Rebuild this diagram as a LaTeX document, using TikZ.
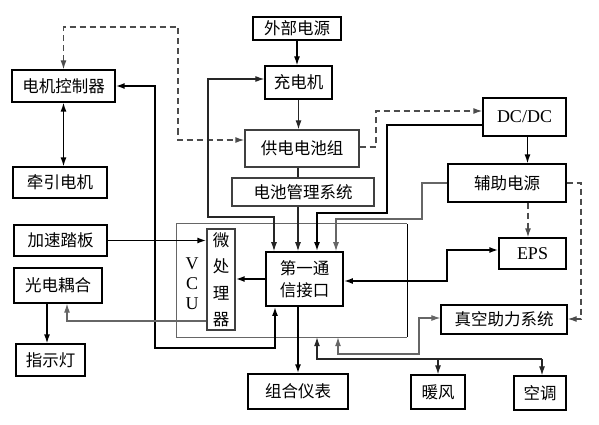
\documentclass[tikz,border=0pt]{standalone}
\usepackage{fontspec}
\setmainfont{Liberation Serif}
\newfontfamily\cjk{Noto Sans CJK SC}
\usetikzlibrary{arrows.meta,calc}
\begin{document}
\begin{tikzpicture}[x=1pt,y=-1pt,
  >={Latex[length=9pt 0 0,width=6pt 0 0]},
  box/.style={draw=black,line width=1.3pt,inner sep=0pt,fill=white,font=\cjk\fontsize{16.5}{22}\selectfont,align=center},
  thickln/.style={line width=1.7pt,black},
  midln/.style={line width=1.3pt,black},
  thinln/.style={line width=1.1pt,black!85},
  grayln/.style={line width=1.1pt,black!60},
  dashln/.style={line width=1.3pt,black!70,dash pattern=on 6pt off 4pt}
]
\useasboundingbox (0,0) rectangle (599,425);

% VCU frame
\node[minimum width=230pt,minimum height=113pt,inner sep=0pt] (vcu) at (292,280.5) {};
\draw[grayln] (vcu.south east) -- (vcu.south west) -- (vcu.north west) -- (vcu.north east);
\draw[midln] (vcu.north east) -- (vcu.south east);
\node[align=center,font=\fontsize{18}{20}\selectfont] (vcut) at (192,284) {V\\C\\U};

% boxes
\node[box,minimum width=88pt,minimum height=23pt] (wbdy) at (297,28.5) {外部电源};
\node[box,minimum width=67pt,minimum height=33pt] (cdj) at (298.5,82.5) {充电机};
\node[box,draw=black!75,minimum width=114pt,minimum height=37pt] (gdc) at (302,148.5) {供电电池组};
\node[box,draw=black!75,minimum width=142pt,minimum height=28pt] (bms) at (303,192) {电池管理系统};
\node[box,minimum width=103pt,minimum height=32pt] (djk) at (63.5,86) {电机控制器};
\node[box,minimum width=94pt,minimum height=31pt] (qydj) at (60,182.5) {牵引电机};
\node[box,font=\fontsize{18}{20}\selectfont,minimum width=83pt,minimum height=38pt] (dcdc) at (524.5,117) {DC/DC};
\node[box,minimum width=118pt,minimum height=38pt] (fzdy) at (507,183) {辅助电源};
\node[box,font=\fontsize{18}{20}\selectfont,minimum width=67pt,minimum height=31pt] (eps) at (532.5,253.5) {EPS};
\node[box,minimum width=126pt,minimum height=29pt] (zk) at (504,319.5) {真空助力系统};
\node[box,minimum width=54pt,minimum height=34pt] (nf) at (438,392) {暖风};
\node[box,minimum width=52pt,minimum height=34pt] (kt) at (540,393) {空调};
\node[box,minimum width=100pt,minimum height=35pt] (zhyb) at (298,391.5) {组合仪表};
\node[box,minimum width=93pt,minimum height=31pt] (jstb) at (60.5,240.5) {加速踏板};
\node[box,minimum width=88pt,minimum height=35pt] (gdoh) at (58,285.5) {光电耦合};
\node[box,minimum width=69pt,minimum height=32pt] (zsd) at (50.5,360) {指示灯};
\node[box,draw=black!75,font=\cjk\fontsize{16.5}{26.5}\selectfont,minimum width=28pt,minimum height=101pt] (wcl) at (221,279.5) {微\\处\\理\\器};
\node[box,line width=1.7pt,minimum width=77pt,minimum height=54pt] (com) at (304.5,279) {第一通\\信接口};

% bend points
\coordinate (d1) at (178,27);
\coordinate (c1) at (155,348);
\coordinate (c2) at (208,217);
\coordinate (c3) at (387,213);
\coordinate (c4) at (422,219);
\coordinate (c5) at (581,319);
\coordinate (c6) at (447,281);
\coordinate (c7) at (419,354);
\coordinate (c8) at (542,359);
\coordinate (c10) at (376,111);

% connectors
\draw[midln,->] (wbdy.south) -- (wbdy.south |- cdj.north);
\draw[thinln,->] (cdj.south) -- (cdj.south |- gdc.north);
\draw[dashln,<->] (djk.north) |- (d1) |- ([yshift=8.5pt]gdc.west);
\draw[midln,<->] (djk.south) -- (djk.south |- qydj.north);
\draw[thickln,<->] (djk.east) -| (c1) -| ([xshift=-29.5pt]com.south);
\draw[thinln,<->] ([xshift=-30.5pt]com.north) |- (c2) |- ([yshift=3.5pt]cdj.west);
\draw[thinln] ([xshift=-4pt]gdc.south) -- ([xshift=-4pt]gdc.south |- bms.north);
\draw[thinln,->] ([xshift=-5pt]bms.south) -- ([xshift=-5pt]bms.south |- com.north);
\draw[thickln,->] ([yshift=-8pt]dcdc.west) -| (c3) -| ([xshift=12.5pt]com.north);
\draw[grayln,->] (fzdy.west) -| (c4) -| ([xshift=31.5pt]com.north);
\draw[midln,->] ([xshift=3pt]dcdc.south) -- ([xshift=3pt]dcdc.south |- fzdy.north);
\draw[dashln,->] ([xshift=-4.5pt]eps.north |- fzdy.south) -- ([xshift=-4.5pt]eps.north);
\draw[dashln,->] (fzdy.east) -| (c5) -- (c5 -| zk.east);
\draw[dashln,->] ([yshift=1.5pt]gdc.east) -| (c10) -- (c10 -| dcdc.west);
\draw[thickln,<->] ([yshift=3.5pt]eps.west) -| (c6) -- (c6 -| com.east);
\draw[grayln,<->] ([xshift=46pt]vcu.south) |- (c7) |- ([yshift=1.5pt]zk.west);
\draw[thinln,<-] ([xshift=25pt]vcu.south) |- (c8);
\draw[thinln,->] (c8) -- (c8 |- kt.north);
\draw[thinln,->] (c8 -| nf.north) -- (nf.north);
\draw[thickln,->] (zhyb.north |- com.south) -- (zhyb.north);
\draw[thickln,->] (com.west) -- (com.west -| wcl.east);
\draw[thickln,->] (jstb.east) -- (jstb.east -| wcl.west);
\draw[grayln,->] ([yshift=-41.5pt]wcl.west) -| ([xshift=9pt]gdoh.south);
\draw[midln,->] ([xshift=-11pt]gdoh.south) -- ([xshift=-11pt]gdoh.south |- zsd.north);
\end{tikzpicture}
\end{document}
